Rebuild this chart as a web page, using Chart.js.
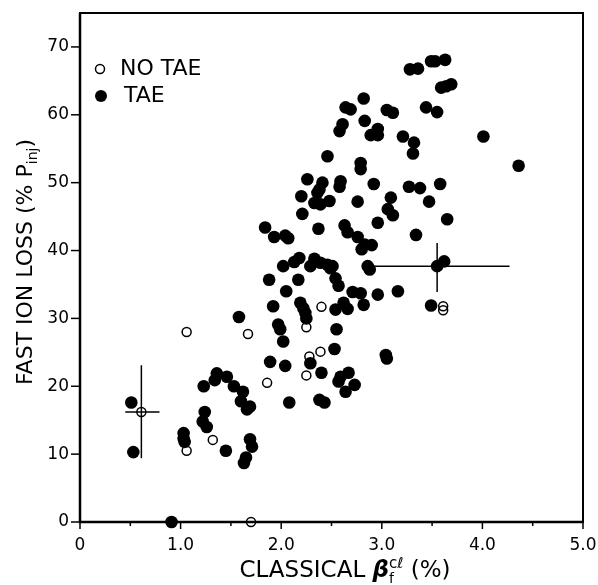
<!DOCTYPE html>
<html><head><meta charset="utf-8">
<script src="https://cdn.jsdelivr.net/npm/chart.js@4"></script>
<style>html,body{margin:0;padding:0;background:#fff}</style>
</head><body>
<canvas id="c" width="598" height="585"></canvas>
<script>
// ---- data ----
const taeX = [0.51,0.53,0.91,1.03,1.03,1.04,1.22,1.26,1.24,1.23,1.36,1.34,1.46,1.45,1.53,1.62,1.60,1.66,1.69,1.69,1.71,1.65,1.63,1.58,
  1.84,1.93,2.04,2.07,1.88,2.02,2.13,2.18,2.05,2.17,1.92,1.97,1.99,2.02,1.89,2.04,2.08,2.19,2.22,2.24,2.25,2.20,2.21,2.26,
  2.29,2.40,2.38,2.43,2.33,2.39,2.46,2.29,2.49,2.37,2.41,2.38,2.36,2.33,2.39,2.48,2.46,2.58,2.61,2.58,2.59,
  2.54,2.57,2.54,2.55,2.53,2.59,2.67,2.57,2.73,2.64,2.62,2.66,2.71,2.79,2.82,2.96,3.16,3.04,3.05,3.49,2.51,
  2.63,2.66,2.76,2.83,2.90,2.80,2.96,3.09,3.06,3.11,3.65,3.34,2.86,2.88,3.55,3.62,2.76,2.79,2.79,
  2.92,3.27,3.38,3.58,3.47,2.64,2.69,2.82,2.83,2.96,2.89,2.96,3.05,3.11,3.21,3.32,3.31,
  3.44,3.55,3.28,3.36,3.49,3.53,3.63,3.59,3.64,3.69,4.01,4.36];
const taeY = [17.6,10.3,0,13.1,12.3,11.8,14.8,14.0,16.2,20.0,21.9,20.9,21.4,10.5,20.0,19.2,17.8,16.6,17.0,12.2,11.1,9.5,8.7,30.2,
  43.4,42.0,42.2,41.8,35.7,37.7,38.3,38.9,34.0,35.7,31.8,29.1,28.4,26.6,23.6,23.0,17.6,32.3,31.5,30.8,30.0,48.0,45.4,50.5,
  23.4,22.0,18.0,17.6,38.8,38.2,37.9,37.7,37.4,43.2,50.0,49.0,48.5,47.0,46.8,47.3,53.9,57.6,58.6,49.4,50.2,
  35.9,34.8,31.3,28.4,25.5,21.4,22.0,20.7,20.2,19.2,32.3,31.4,33.9,33.7,32.0,33.5,34.0,24.6,24.1,31.9,37.7,
  43.7,42.7,42.0,40.9,40.8,40.2,44.1,47.8,46.1,45.2,44.6,42.3,37.7,37.2,37.7,38.4,47.2,52.9,52.0,
  49.8,49.4,49.2,49.8,47.2,61.1,60.8,62.4,59.1,57.9,57.0,57.0,60.7,60.3,56.8,55.9,54.3,
  61.1,60.4,66.7,66.8,67.9,67.9,68.1,64.0,64.2,64.5,56.8,52.5];
const noTaeX = [0.61,1.06,1.67,1.06,1.32,1.70,1.86,2.25,2.40,2.39,2.28,2.25,3.61,3.61];
const noTaeY = [16.2,28.0,27.7,10.5,12.1,0,20.5,28.7,31.7,25.1,24.4,21.6,31.8,31.2];
// error bars: centre, x-extent, y-extent
const errX = [0.61, 3.55];
const errY = [16.2, 37.7];
const errXLow = [0.45, 2.92];
const errXHigh = [0.79, 4.27];
const errYLow = [9.4, 33.9];
const errYHigh = [23.1, 41.1];
const legendLabels = ['NO TAE', 'TAE'];
const xTicksShown = [0, 1, 2, 3, 4, 5];

const FONT = '"DejaVu Sans", sans-serif';

const pts = (xs, ys) => xs.map((v, i) => ({x: v, y: ys[i]}));
const errSets = [];
errX.forEach((cx, i) => {
  const base = {type: 'scatter', showLine: true, borderColor: '#000', borderWidth: 1.5, pointRadius: 0, clip: false, fill: false};
  errSets.push(Object.assign({}, base, {data: [{x: errXLow[i], y: errY[i]}, {x: errXHigh[i], y: errY[i]}]}));
  errSets.push(Object.assign({}, base, {data: [{x: cx, y: errYLow[i]}, {x: cx, y: errYHigh[i]}]}));
});

function drawRich(ctx, parts, x, y) {
  const setFont = p => ctx.font = (p.italic ? 'italic ' : '') + (p.bold ? 'bold ' : '') + p.size + 'px ' + FONT;
  const widthOf = p => {
    if (p.stack) return Math.max(...p.stack.map(widthOf));
    setFont(p); return ctx.measureText(p.t).width;
  };
  const total = parts.reduce((s, p) => s + widthOf(p), 0);
  let cx = x - total / 2;
  parts.forEach(p => {
    const w = widthOf(p);
    const items = p.stack ? p.stack : [p];
    items.forEach(q => { setFont(q); ctx.fillText(q.t, cx, y + (q.dy || 0)); });
    cx += w;
  });
}

const decor = {
  id: 'decor',
  afterDatasetsDraw(chart) {
    const {ctx, chartArea: a, scales: {x, y}} = chart;
    ctx.save();
    ctx.strokeStyle = '#000';
    ctx.lineWidth = 2;
    ctx.strokeRect(a.left, a.top, a.right - a.left, a.bottom - a.top);
    ctx.lineWidth = 2.5;
    ctx.beginPath(); ctx.moveTo(a.left, a.top); ctx.lineTo(a.left, a.bottom); ctx.lineTo(a.right, a.bottom); ctx.stroke();
    ctx.lineWidth = 1.5;
    x.ticks.forEach(t => {
      const px = x.getPixelForValue(t.value);
      const major = Math.abs(t.value - Math.round(t.value)) < 1e-6;
      ctx.beginPath(); ctx.moveTo(px, a.bottom); ctx.lineTo(px, a.bottom + (major ? 7 : 4)); ctx.stroke();
    });
    y.ticks.forEach(t => {
      const py = y.getPixelForValue(t.value);
      ctx.beginPath(); ctx.moveTo(a.left - 9, py); ctx.lineTo(a.left, py); ctx.stroke();
    });
    ctx.restore();
  },
  afterDraw(chart) {
    const {ctx} = chart;
    ctx.save();
    ctx.fillStyle = '#000';
    ctx.strokeStyle = '#000';
    ctx.lineWidth = 1.5;
    ctx.beginPath(); ctx.arc(100, 69, 4.5, 0, Math.PI * 2); ctx.stroke();
    ctx.beginPath(); ctx.arc(101, 96, 6, 0, Math.PI * 2); ctx.fill();
    ctx.font = '22px ' + FONT;
    ctx.textBaseline = 'middle';
    ctx.textAlign = 'left';
    ctx.fillText(legendLabels[0], 120, 69);
    ctx.fillText(legendLabels[1], 124, 96);
    ctx.textBaseline = 'alphabetic';
    drawRich(ctx, [
      {t: 'CLASSICAL ', size: 23},
      {t: '\u03B2', size: 23, italic: true, bold: true},
      {stack: [{t: 'c\u2113', size: 15, dy: -9}, {t: 'f', size: 14, dy: 6}]},
      {t: ' (%)', size: 23}
    ], 345, 577);
    ctx.translate(32, 262);
    ctx.rotate(-Math.PI / 2);
    drawRich(ctx, [
      {t: 'FAST ION LOSS (% P', size: 22},
      {t: 'inj', size: 14, dy: 5},
      {t: ')', size: 22}
    ], 0, 0);
    ctx.restore();
  }
};

new Chart(document.getElementById('c'), {
  type: 'scatter',
  data: {
    datasets: [
      ...errSets,
      {label: legendLabels[0], data: pts(noTaeX, noTaeY), pointRadius: 4.5, pointBorderWidth: 1.5,
       pointBackgroundColor: 'rgba(255,255,255,0)', pointBorderColor: '#000', clip: false},
      {label: legendLabels[1], data: pts(taeX, taeY), pointRadius: 6.3, pointBorderWidth: 0,
       pointBackgroundColor: '#000', pointBorderColor: '#000', clip: false}
    ]
  },
  options: {
    responsive: false,
    animation: false,
    devicePixelRatio: 1,
    layout: {padding: {left: 0, right: 15, top: 13, bottom: 0}},
    plugins: {legend: {display: false}, tooltip: {enabled: false}},
    scales: {
      x: {
        type: 'linear', min: 0, max: 5,
        grid: {display: false, drawTicks: false}, border: {display: false},
        afterFit: s => { s.height = 63; s.paddingLeft = 0; s.paddingRight = 0; },
        ticks: {
          stepSize: 0.5, autoSkip: false, maxRotation: 0, padding: 13, color: '#000',
          font: {family: FONT, size: 17},
          callback: v => xTicksShown.includes(v) ? (v === 0 ? '0' : v.toFixed(1)) : ''
        }
      },
      y: {
        type: 'linear', min: 0, max: 75,
        grid: {display: false, drawTicks: false}, border: {display: false},
        afterFit: s => { s.width = 80; s.paddingTop = 0; s.paddingBottom = 0; },
        afterBuildTicks: s => { s.ticks = s.ticks.filter(t => t.value % 10 === 0); },
        ticks: {stepSize: 10, padding: 11, color: '#000', font: {family: FONT, size: 17}}
      }
    }
  },
  plugins: [decor]
});
</script>
</body></html>
